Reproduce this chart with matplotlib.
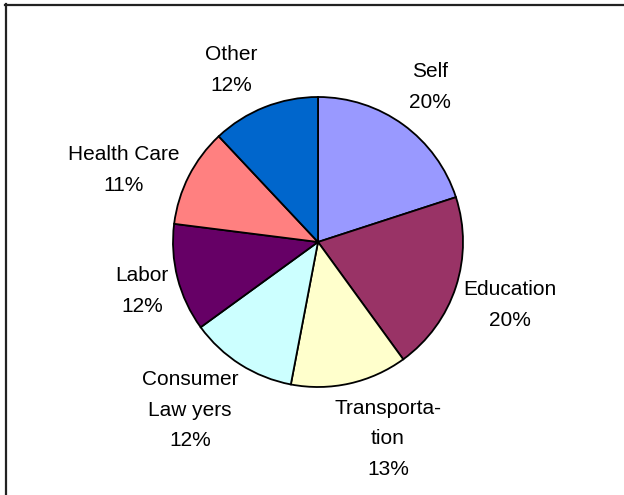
import matplotlib
matplotlib.use("Agg")
import matplotlib.pyplot as plt
from matplotlib.lines import Line2D

# Share of cases by category
categories = ["Self", "Education", "Transporta-\ntion", "Consumer\nLaw yers",
              "Labor", "Health Care", "Other"]
shares = [20, 20, 13, 12, 12, 11, 12]
colors = ["#9999FF", "#993366", "#FFFFCC", "#CCFFFF", "#660066", "#FF8080", "#0066CC"]

# Label anchor points (pixel coords of the figure) for each slice
label_px = [(430, 87), (510, 305), (388, 439), (190, 410), (142, 291), (124, 170), (231, 70)]

W, H = 624, 495
fig = plt.figure(figsize=(W / 100, H / 100), dpi=100)
fig.patch.set_facecolor("white")

cx, cy, r = 318, 242, 145
ax = fig.add_axes([(cx - r) / W, (H - cy - r) / H, 2 * r / W, 2 * r / H])
ax.pie(shares, colors=colors, startangle=90, counterclock=False, radius=1,
       wedgeprops=dict(edgecolor="black", linewidth=1.3))
ax.set_xlim(-1, 1)
ax.set_ylim(-1, 1)
ax.set_aspect("equal")
ax.axis("off")

for cat, val, (px, py) in zip(categories, shares, label_px):
    fig.text(px / W, 1 - py / H, f"{cat}\n{val}%", ha="center", va="center",
             fontsize=15, family="Liberation Sans", linespacing=1.76, color="black")

# Frame lines along the top and left edges
fig.add_artist(Line2D([5 / W, 1], [1 - 4.5 / H, 1 - 4.5 / H], transform=fig.transFigure,
                      color="#222222", linewidth=1.6))
fig.add_artist(Line2D([5.5 / W, 5.5 / W], [0, 1 - 4 / H], transform=fig.transFigure,
                      color="#222222", linewidth=1.6))

fig.savefig("out.png", dpi=100)
